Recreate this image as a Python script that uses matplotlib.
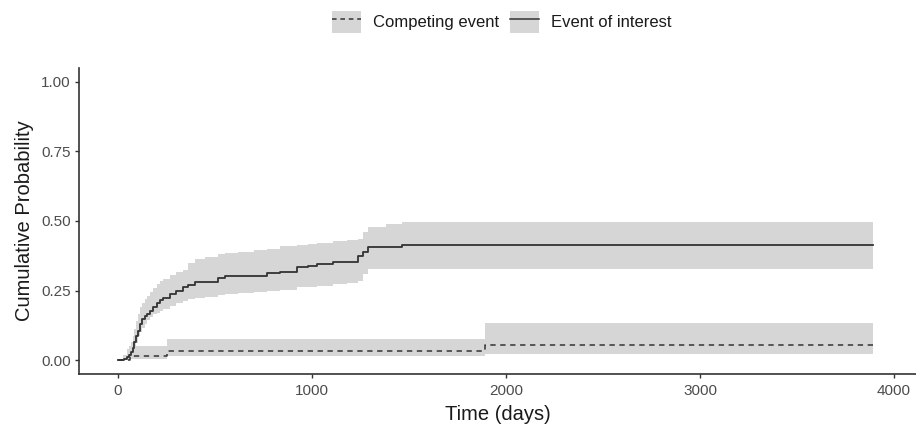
import numpy as np
import matplotlib.pyplot as plt
from matplotlib.patches import Patch
from matplotlib.lines import Line2D

plt.rcParams['font.family'] = ['Liberation Sans', 'DejaVu Sans']

# event of interest: step times, estimate, lower / upper CI
t_int = [0, 30, 45, 55, 65, 75, 85, 95, 105, 113,
         125, 139, 152, 165, 180, 199, 215, 234, 268, 300,
         337, 362, 397, 450, 517, 552, 620, 700, 766, 835,
         921, 980, 1024, 1110, 1180, 1239, 1265, 1290, 1380, 1462, 3890]
est_int = [0, 0.004, 0.01, 0.02, 0.03, 0.045, 0.065, 0.085, 0.105, 0.13,
           0.147, 0.157, 0.165, 0.175, 0.19, 0.207, 0.215, 0.225, 0.237, 0.25,
           0.261, 0.27, 0.282, 0.282, 0.294, 0.303, 0.303, 0.303, 0.313, 0.318,
           0.333, 0.338, 0.345, 0.351, 0.351, 0.375, 0.387, 0.405, 0.405, 0.415, 0.415]
lo_int = [0, 0, 0, 0.005, 0.015, 0.03, 0.045, 0.06, 0.085, 0.1,
          0.115, 0.13, 0.145, 0.155, 0.165, 0.171, 0.178, 0.185, 0.195, 0.205,
          0.213, 0.218, 0.225, 0.228, 0.234, 0.237, 0.241, 0.245, 0.249, 0.252,
          0.261, 0.264, 0.267, 0.273, 0.278, 0.285, 0.308, 0.326, 0.326, 0.326, 0.326]
hi_int = [0, 0.02, 0.035, 0.05, 0.065, 0.085, 0.11, 0.14, 0.165, 0.19,
          0.205, 0.219, 0.232, 0.245, 0.26, 0.275, 0.285, 0.29, 0.305, 0.315,
          0.325, 0.35, 0.362, 0.372, 0.38, 0.385, 0.39, 0.396, 0.4, 0.41,
          0.415, 0.419, 0.422, 0.428, 0.43, 0.434, 0.46, 0.48, 0.49, 0.497, 0.497]

# competing event
t_comp = [0, 25, 45, 60, 251, 1892, 3890]
est_comp = [0, 0, 0, 0.014, 0.033, 0.055, 0.055]
lo_comp = [0, 0, 0.002, 0.005, 0.015, 0.021, 0.021]
hi_comp = [0, 0.02, 0.04, 0.052, 0.077, 0.133, 0.133]

x_ticks = [0, 1000, 2000, 3000, 4000]
y_ticks = [0, 0.25, 0.5, 0.75, 1.0]

band = '#d6d6d6'
line = '#333333'

fig = plt.figure(figsize=(9.16, 4.29), dpi=100)
ax = fig.add_axes([79 / 916, 55 / 429, 1 - 79 / 916, 306 / 429])

ax.fill_between(t_int, lo_int, hi_int, step='post', color=band, lw=0)
ax.fill_between(t_comp, lo_comp, hi_comp, step='post', color=band, lw=0)
ax.step(t_int, est_int, where='post', color=line, lw=1.3)
ax.step(t_comp, est_comp, where='post', color=line, lw=1.1, ls=(0, (3.5, 3)))

ax.set_xlim(-201, 4113)
ax.set_ylim(-0.05, 1.05)
ax.set_xticks(x_ticks)
ax.set_xticklabels([str(v) for v in x_ticks])
ax.set_yticks(y_ticks)
ax.set_yticklabels([f"{v:.2f}" for v in y_ticks])

for s in ['top', 'right']:
    ax.spines[s].set_visible(False)
for s in ['left', 'bottom']:
    ax.spines[s].set_color('#333333')
    ax.spines[s].set_linewidth(1.2)
ax.tick_params(length=3, width=1, color='#333333', labelsize=11,
               labelcolor='#4d4d4d', pad=3)
ax.tick_params(axis='x', pad=4)

ax.set_xlabel("Time (days)", fontsize=14.5, color='#1a1a1a', labelpad=5)
ax.set_ylabel("Cumulative Probability", fontsize=14.5, color='#1a1a1a', labelpad=5)

handles = [
    (Patch(facecolor=band, edgecolor='none'),
     Line2D([], [], color=line, lw=1.1, ls=(0, (3, 2.5)))),
    (Patch(facecolor=band, edgecolor='none'),
     Line2D([], [], color=line, lw=1.1)),
]
fig.legend(handles, ["Competing event", "Event of interest"],
           loc='center', bbox_to_anchor=(502 / 916, 1 - 22 / 429), ncol=2,
           frameon=False, fontsize=12, handlelength=1.7, handleheight=1.6,
           handletextpad=0.75, columnspacing=0.65, labelcolor='#1a1a1a')

fig.savefig("out.png", dpi=100)
